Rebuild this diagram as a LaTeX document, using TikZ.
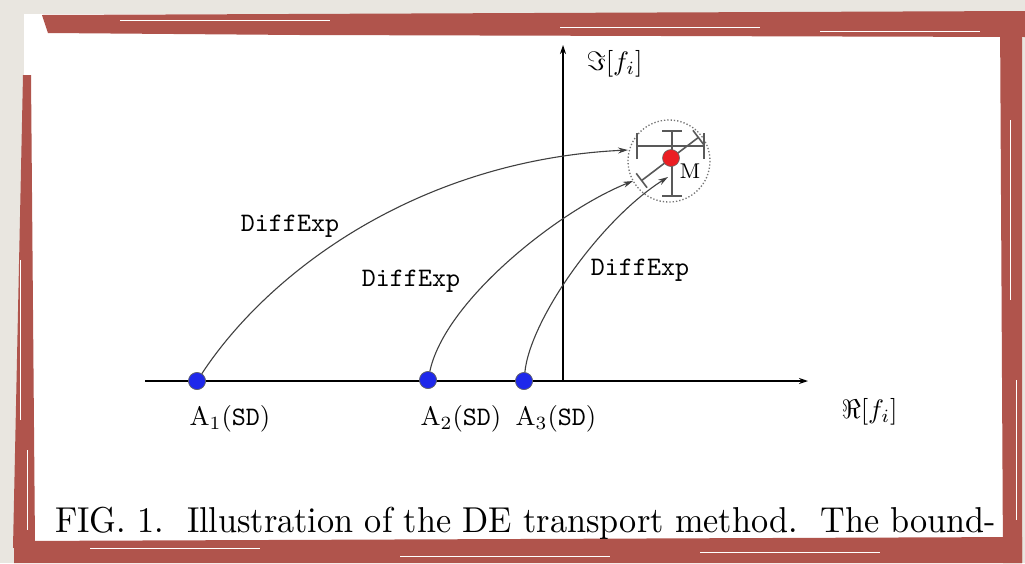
\documentclass[tikz,border=0pt]{standalone}
\usetikzlibrary{arrows.meta}
\definecolor{paper}{RGB}{233,230,224}
\definecolor{frame}{RGB}{176,84,76}
\definecolor{dotblue}{RGB}{30,40,235}
\definecolor{dotred}{RGB}{235,30,35}
\newcommand{\figtxt}[1]{\scalebox{2.67}{#1}}
\tikzset{
  pt/.style={circle,draw=black!60,line width=0.6pt,minimum size=17pt,inner sep=0pt},
  axis/.style={line width=1.4pt,-{Stealth[length=9pt,width=6pt]}},
  transport/.style={line width=1.1pt,black!75,-{Stealth[length=10pt,width=6pt]}},
  errbar/.style={line width=1.6pt,black!65},
  band/.style={fill=frame,draw=none}
}

\begin{document}
\begin{tikzpicture}[x=1pt,y=-1pt]

% paper and frame
\fill[paper] (0,0) rectangle (1025,563);
\useasboundingbox (0,0) rectangle (1025,563);
\fill[white] (24,14) rectangle (1003,545);
\fill[band] (42,15) -- (1025,11) -- (1025,37) -- (300,35) -- (48,33) -- cycle;
\fill[band] (1000,14) -- (1022,12) -- (1022,563) -- (1003,563) -- cycle;
\fill[band] (14,541) -- (1022,537) -- (1022,563) -- (14,563) -- cycle;
\fill[band] (23,75) -- (31,75) -- (35,545) -- (13,548) -- cycle;
\foreach \y/\a/\b in {20/120/330, 27/560/760, 31/820/980, 548/90/260, 556/400/610, 552/700/880}
{
  \draw[white,line width=0.8pt] (\a,\y) -- (\b,\y);
}
\foreach \x/\a/\b in {1010/120/300, 1016/380/520, 20/260/420, 27/450/530}
{
  \draw[white,line width=0.7pt] (\x,\a) -- (\x,\b);
}

% axes
\coordinate (xstart) at (145,381);
\coordinate (xend)   at (808,381);
\coordinate (ystart) at (563,381);
\coordinate (yend)   at (563,45);
\draw[axis] (xstart) -- (xend);
\draw[axis] (ystart) -- (yend);
\node[anchor=west] (imlbl) at (583,64) {\figtxt{$\Im[f_i]$}};
\node[anchor=west] (relbl) at (838,412) {\figtxt{$\Re[f_i]$}};

% target point with its uncertainty
\draw[black!55,line width=1.3pt,dotted] (669,161) circle (41);
\draw[errbar,{Bar[width=26pt]}-{Bar[width=26pt]}] (636,146) -- (705,146);
\draw[errbar,{Bar[width=20pt]}-{Bar[width=20pt]}] (672,130) -- (672,197);
\draw[errbar,{Bar[width=18pt]}-{Bar[width=18pt]}] (641,181) -- (699,137);

% end points of the transport curves
\coordinate (T1) at (628,150);
\coordinate (T2) at (633,181);
\coordinate (T3) at (668,177);

% starting points on the real axis
\node[pt,fill=dotblue] (A1) at (197,381) {};
\node[pt,fill=dotblue] (A2) at (428,380) {};
\node[pt,fill=dotblue] (A3) at (524,381) {};

% transport curves
\draw[transport] (A1) .. controls (270,270) and (420,160) .. (T1);
\draw[transport] (A2) .. controls (445,300) and (560,210) .. (T2);
\draw[transport] (A3) .. controls (530,320) and (600,220) .. (T3);
\node (d1) at (290,226) {\figtxt{\texttt{DiffExp}}};
\node (d2) at (411,281) {\figtxt{\texttt{DiffExp}}};
\node (d3) at (640,270) {\figtxt{\texttt{DiffExp}}};

% redraw dots above curves
\node[pt,fill=dotblue] at (A1) {};
\node[pt,fill=dotblue] at (A2) {};
\node[pt,fill=dotblue] at (A3) {};
\node[pt,fill=dotred] (M) at (671,158) {};
\node[anchor=west] (Mlbl) at (676,171) {\figtxt{\footnotesize M}};

% labels of the starting points
\node[anchor=base west] (A1lbl) at (186,425) {\figtxt{A$_1$(\texttt{SD})}};
\node[anchor=base west] (A2lbl) at (417,425) {\figtxt{A$_2$(\texttt{SD})}};
\node[anchor=base west] (A3lbl) at (512,425) {\figtxt{A$_3$(\texttt{SD})}};

% caption
\node[anchor=base west,inner sep=0pt] (cap) at (55,532)
  {\scalebox{3.42}[3.6]{FIG. 1.\ \ Illustration of the DE transport method.\ \ The bound-}};

\end{tikzpicture}
\end{document}
